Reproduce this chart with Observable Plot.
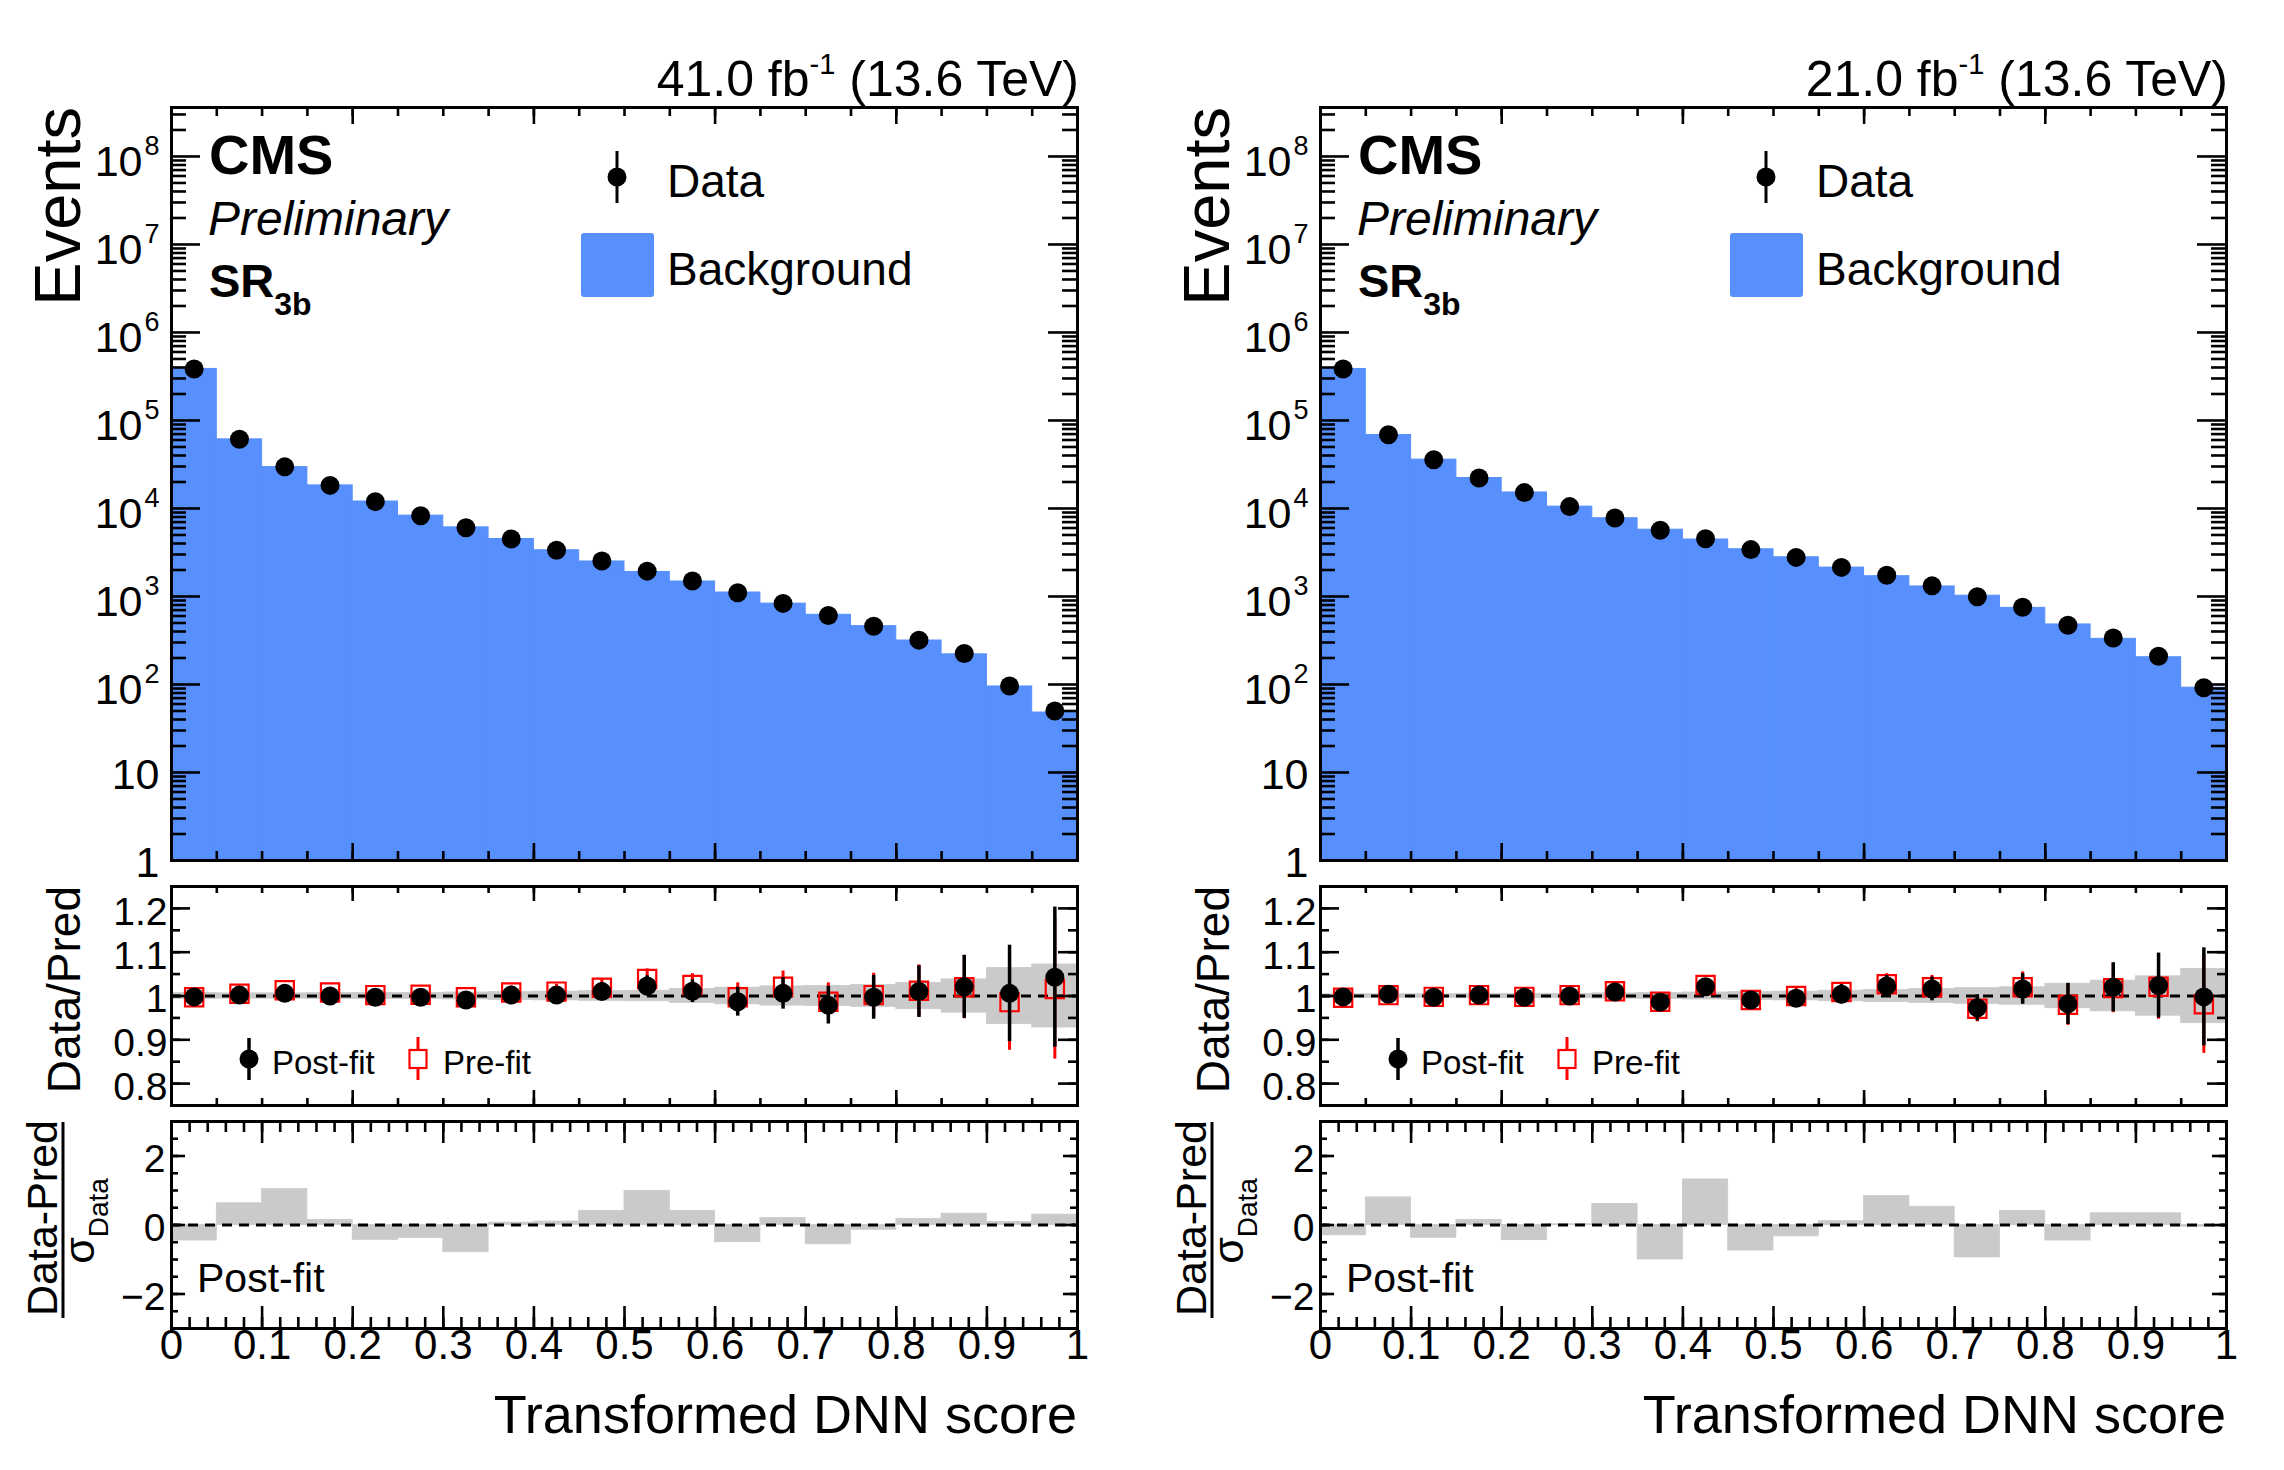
<!DOCTYPE html>
<html><head><meta charset="utf-8">
<script src="https://cdn.jsdelivr.net/npm/d3@7"></script>
<script src="https://cdn.jsdelivr.net/npm/@observablehq/plot@0.6"></script>
<style>
body{margin:0;background:#fff;}
#fig{position:relative;width:2284px;height:1470px;font-family:"Liberation Sans",Arial,Helvetica,sans-serif;}
#fig svg{position:absolute;overflow:visible;}
</style></head><body><div id="fig"></div>
<script>
// ---------- data ----------
const binEdges = [0,0.05,0.1,0.15,0.2,0.25,0.3,0.35,0.4,0.45,0.5,0.55,0.6,0.65,0.7,0.75,0.8,0.85,0.9,0.95,1];
const xTickValues = [0,0.1,0.2,0.3,0.4,0.5,0.6,0.7,0.8,0.9,1];
const xTickLabels = ["0","0.1","0.2","0.3","0.4","0.5","0.6","0.7","0.8","0.9","1"];
const logTickValues = [1,10,100,1e3,1e4,1e5,1e6,1e7,1e8];
const logTickBase = ["1","10","10","10","10","10","10","10","10"];
const logTickExp = ["","","2","3","4","5","6","7","8"];
const ratioTickValues = [0.8,0.9,1,1.1,1.2];
const ratioTickLabels = ["0.8","0.9","1","1.1","1.2"];
const pullTickValues = [-2,0,2];
const pullTickLabels = ["\u22122","0","2"];

const lumiLabels = ["41.0","21.0"];

const bkg41 = [385000,61000,29500,18300,12000,8300,6100,4500,3350,2500,1900,1480,1110,830,620,460,316,220,95,48];
const data41 = [384000,61100,29700,18300,11960,8270,6050,4510,3360,2530,1940,1500,1100,835,607,459,319,225,96,50];
const post41 = [0.998,1.002,1.006,1.000,0.997,0.997,0.991,1.002,1.002,1.010,1.023,1.011,0.987,1.006,0.979,0.997,1.010,1.021,1.006,1.043];
const pre41 = [0.997,1.005,1.013,1.008,1.002,1.003,0.997,1.008,1.010,1.019,1.039,1.025,0.997,1.021,0.987,1.002,1.012,1.020,0.986,1.016];
const err41 = [0.002,0.004,0.006,0.007,0.009,0.011,0.013,0.015,0.017,0.020,0.023,0.026,0.033,0.036,0.043,0.050,0.059,0.072,0.110,0.160];
const band41 = [0.007,0.006,0.006,0.007,0.007,0.007,0.008,0.009,0.010,0.011,0.012,0.016,0.019,0.022,0.023,0.025,0.030,0.038,0.064,0.072];
const pull41 = [-0.45,0.63,1.04,0.15,-0.43,-0.38,-0.79,0.07,0.10,0.41,0.99,0.41,-0.50,0.20,-0.56,-0.14,0.18,0.33,0.09,0.30];

const bkg21 = [385000,68400,35900,22200,15200,10500,7740,5740,4440,3440,2790,2130,1700,1300,1020,743,481,330,204,92];
const data21 = [384000,68700,35800,22200,15150,10500,7810,5660,4530,3410,2780,2140,1740,1320,992,755,472,337,209,92];
const post21 = [0.998,1.004,0.997,1.002,0.997,1.000,1.009,0.986,1.021,0.991,0.995,1.004,1.023,1.016,0.973,1.016,0.982,1.020,1.024,0.998];
const pre21 = [0.996,1.002,0.998,1.002,0.998,1.002,1.011,0.987,1.025,0.991,1.000,1.009,1.027,1.020,0.971,1.020,0.980,1.018,1.021,0.981];
const err21 = [0.002,0.004,0.005,0.007,0.008,0.010,0.011,0.013,0.015,0.017,0.019,0.022,0.024,0.027,0.030,0.035,0.047,0.056,0.074,0.112];
const band21 = [0.004,0.004,0.004,0.005,0.005,0.005,0.006,0.007,0.008,0.009,0.010,0.012,0.014,0.016,0.018,0.020,0.028,0.035,0.045,0.062];
const pull21 = [-0.30,0.80,-0.37,0.15,-0.44,0.02,0.61,-1.00,1.32,-0.74,-0.33,0.11,0.84,0.53,-0.94,0.41,-0.45,0.34,0.34,-0.05];

// ---------- style / layout ----------
const BLUE = "#5790fc", GRAY = "#cacaca", RED = "#ff0000";
const FONT = '"Liberation Sans",Arial,Helvetica,sans-serif';
const FW = 906;
const TOP = {y: 107, h: 753}, RAT = {y: 886, h: 219}, PUL = {y: 1121, h: 207};
const YMAX = 3.6e8;

const panels = [
  {x0: 171, lumi: lumiLabels[0], bkg: bkg41, data: data41, post: post41, pre: pre41, err: err41, band: band41, pull: pull41},
  {x0: 1320, lumi: lumiLabels[1], bkg: bkg21, data: data21, post: post21, pre: pre21, err: err21, band: band21, pull: pull21}
];

function rowsOf(p) {
  return p.bkg.map((b, i) => ({
    lo: binEdges[i], hi: binEdges[i + 1], mid: (binEdges[i] + binEdges[i + 1]) / 2,
    bkg: b, data: p.data[i], post: p.post[i], pre: p.pre[i], err: p.err[i], band: p.band[i], pull: p.pull[i]
  }));
}

const step = (a, b, s) => d3.range(Math.round((b - a) / s) + 1).map(i => +(a + i * s).toFixed(6));

function frameTicks(W, H, xMaj, xMin, xMajLen, xMinLen, yMaj, yMin, yMajLen, yMinLen) {
  const s = {stroke: "black", strokeWidth: 2.6};
  return [
    Plot.tickX(xMin, {x: d => d, insetBottom: H - xMinLen, ...s}),
    Plot.tickX(xMin, {x: d => d, insetTop: H - xMinLen, ...s}),
    Plot.tickX(xMaj, {x: d => d, insetBottom: H - xMajLen, ...s}),
    Plot.tickX(xMaj, {x: d => d, insetTop: H - xMajLen, ...s}),
    Plot.tickY(yMin, {y: d => d, insetRight: W - yMinLen, ...s}),
    Plot.tickY(yMin, {y: d => d, insetLeft: W - yMinLen, ...s}),
    Plot.tickY(yMaj, {y: d => d, insetRight: W - yMajLen, ...s}),
    Plot.tickY(yMaj, {y: d => d, insetLeft: W - yMajLen, ...s})
  ];
}

function place(svg, x, y) {
  svg.style.left = x + "px";
  svg.style.top = y + "px";
  svg.style.overflow = "visible";
  svg.style.background = "transparent";
  document.getElementById("fig").appendChild(svg);
}

const baseStyle = `overflow:visible;background:transparent;font-family:${FONT};color:black;`;

const logTicks = logTickValues.map((v, i) => ({v, base: logTickBase[i], exp: logTickExp[i]}));
const logMinor = d3.range(0, 9).flatMap(e => d3.range(2, 10).map(k => k * Math.pow(10, e))).filter(v => v < YMAX);
const xTicks = xTickValues.map((v, i) => ({v, t: xTickLabels[i]}));
const ratioTicks = ratioTickValues.map((v, i) => ({v, t: ratioTickLabels[i]}));
const pullTicks = pullTickValues.map((v, i) => ({v, t: pullTickLabels[i]}));

for (const p of panels) {
  const R = rowsOf(p);

  // ---- main panel ----
  const top = Plot.plot({
    width: FW, height: TOP.h, margin: 0,
    style: baseStyle,
    x: {domain: [0, 1], axis: null},
    y: {type: "log", domain: [1, YMAX], axis: null},
    marks: [
      Plot.rect(R, {x1: "lo", x2: "hi", y1: () => 1, y2: "bkg", fill: BLUE, stroke: BLUE, strokeWidth: 1}),
      Plot.dot(R, {x: "mid", y: "data", r: 9.5, fill: "black", stroke: "none"}),
      ...frameTicks(FW, TOP.h, step(0, 1, 0.2), step(0, 1, 0.05), 17, 9, logTickValues, logMinor, 29, 15),
      Plot.frame({stroke: "black", strokeWidth: 3}),
      Plot.text(logTicks.filter(d => d.exp === ""), {y: "v", text: "base", frameAnchor: "left", textAnchor: "end", dx: -12, dy: 3, fontSize: 43, fill: "black"}),
      Plot.text(logTicks.filter(d => d.exp !== ""), {y: "v", text: "base", frameAnchor: "left", textAnchor: "end", dx: -29, dy: 6, fontSize: 43, fill: "black"}),
      Plot.text(logTicks.filter(d => d.exp !== ""), {y: "v", text: "exp", frameAnchor: "left", textAnchor: "end", dx: -12, dy: -10, fontSize: 27, fill: "black"})
    ]
  });
  place(top, p.x0, TOP.y);

  // ---- ratio panel ----
  const rat = Plot.plot({
    width: FW, height: RAT.h, margin: 0,
    style: baseStyle,
    x: {domain: [0, 1], axis: null},
    y: {domain: [0.75, 1.25], axis: null},
    marks: [
      Plot.rect(R, {x1: "lo", x2: "hi", y1: d => 1 - d.band, y2: d => 1 + d.band, fill: GRAY, stroke: GRAY, strokeWidth: 0.8}),
      Plot.ruleY([1], {stroke: "black", strokeWidth: 3, strokeDasharray: "10,7"}),
      Plot.ruleX(R, {x: "mid", y1: d => d.pre - d.err, y2: d => d.pre + d.err, stroke: RED, strokeWidth: 3}),
      Plot.dot(R, {x: "mid", y: "pre", symbol: "square", r: 10.3, stroke: RED, strokeWidth: 2.2, fill: "none"}),
      Plot.ruleX(R, {x: "mid", y1: d => d.post - d.err, y2: d => d.post + d.err, stroke: "black", strokeWidth: 3.5}),
      Plot.dot(R, {x: "mid", y: "post", r: 9.5, fill: "black", stroke: "none"}),
      ...frameTicks(FW, RAT.h, step(0, 1, 0.2), step(0, 1, 0.05), 15, 7, ratioTickValues, step(0.75, 1.25, 0.05), 19, 9),
      Plot.frame({stroke: "black", strokeWidth: 3}),
      Plot.text(ratioTicks, {y: "v", text: "t", frameAnchor: "left", textAnchor: "end", dx: -4, dy: 4, fontSize: 39, fill: "black"})
    ]
  });
  place(rat, p.x0, RAT.y);

  // ---- pull panel ----
  const pul = Plot.plot({
    width: FW, height: PUL.h, margin: 0,
    style: baseStyle,
    x: {domain: [0, 1], axis: null},
    y: {domain: [-3, 3], axis: null},
    marks: [
      Plot.rect(R, {x1: "lo", x2: "hi", y1: () => 0, y2: "pull", fill: GRAY, stroke: GRAY, strokeWidth: 0.8}),
      Plot.ruleY([0], {stroke: "black", strokeWidth: 3, strokeDasharray: "10,7"}),
      ...frameTicks(FW, PUL.h, step(0, 1, 0.1), step(0, 1, 0.02), 22, 11, pullTickValues, step(-3, 3, 0.5), 14, 7),
      Plot.frame({stroke: "black", strokeWidth: 3}),
      Plot.text(pullTicks, {y: "v", text: "t", frameAnchor: "left", textAnchor: "end", dx: -6, dy: 4, fontSize: 39, fill: "black"}),
      Plot.text(xTicks, {x: "v", text: "t", frameAnchor: "bottom", textAnchor: "middle", dy: 30, fontSize: 42, fill: "black"})
    ]
  });
  place(pul, p.x0, PUL.y);
}

// ---------- overlay annotations ----------
const ov = d3.select("#fig").append("svg")
  .attr("width", 2284).attr("height", 1470)
  .style("left", "0px").style("top", "0px")
  .attr("font-family", FONT);

function text(x, y, str, o = {}) {
  const t = ov.append("text").attr("x", x).attr("y", y)
    .attr("font-size", o.size || 40).attr("fill", o.fill || "black")
    .attr("text-anchor", o.anchor || "start");
  if (o.weight) t.attr("font-weight", o.weight);
  if (o.style) t.attr("font-style", o.style);
  if (o.transform) t.attr("transform", o.transform).attr("x", 0).attr("y", 0);
  t.text(str);
  return t;
}

for (const p of panels) {
  const x0 = p.x0, xr = x0 + FW;

  // luminosity label
  const l = text(xr + 2, 96, p.lumi + " fb", {size: 50, anchor: "end"});
  l.append("tspan").attr("font-size", 29).attr("dy", -22).text("-1");
  l.append("tspan").attr("font-size", 50).attr("dy", 22).text(" (13.6 TeV)");

  // y titles
  text(0, 0, "Events", {size: 65, anchor: "end", transform: `translate(${x0 - 91},${TOP.y}) rotate(-90)`});
  text(0, 0, "Data/Pred", {size: 46, anchor: "end", transform: `translate(${x0 - 91},${RAT.y}) rotate(-90)`});
  text(0, 0, "Data-Pred", {size: 43, anchor: "middle", transform: `translate(${x0 - 114},${1218}) rotate(-90)`});
  ov.append("line").attr("x1", x0 - 108).attr("x2", x0 - 108).attr("y1", 1122).attr("y2", 1318)
    .attr("stroke", "black").attr("stroke-width", 3);
  const den = text(0, 0, "\u03c3", {size: 43, anchor: "middle", transform: `translate(${x0 - 77},${1221}) rotate(-90)`});
  den.append("tspan").attr("font-size", 28).attr("dy", 14).text("Data");

  // x title
  text(xr, 1433, "Transformed DNN score", {size: 54, anchor: "end"});

  // CMS labels
  text(x0 + 38, 174, "CMS", {size: 56, weight: "bold"});
  text(x0 + 37, 235, "Preliminary", {size: 48, style: "italic"});
  const sr = text(x0 + 38, 297, "SR", {size: 47, weight: "bold"});
  sr.append("tspan").attr("font-size", 32).attr("dy", 18).text("3b");

  // main legend
  ov.append("line").attr("x1", x0 + 446).attr("x2", x0 + 446).attr("y1", 151).attr("y2", 203)
    .attr("stroke", "black").attr("stroke-width", 3);
  ov.append("circle").attr("cx", x0 + 446).attr("cy", 177).attr("r", 9.5).attr("fill", "black");
  text(x0 + 496, 197, "Data", {size: 46});
  ov.append("rect").attr("x", x0 + 410).attr("y", 233).attr("width", 73).attr("height", 64)
    .attr("rx", 3).attr("fill", BLUE);
  text(x0 + 496, 285, "Background", {size: 46});

  // ratio legend
  ov.append("line").attr("x1", x0 + 78).attr("x2", x0 + 78).attr("y1", 1038).attr("y2", 1080)
    .attr("stroke", "black").attr("stroke-width", 3.5);
  ov.append("circle").attr("cx", x0 + 78).attr("cy", 1059).attr("r", 9.5).attr("fill", "black");
  text(x0 + 101, 1074, "Post-fit", {size: 33});
  ov.append("line").attr("x1", x0 + 247).attr("x2", x0 + 247).attr("y1", 1037).attr("y2", 1050)
    .attr("stroke", RED).attr("stroke-width", 3);
  ov.append("line").attr("x1", x0 + 247).attr("x2", x0 + 247).attr("y1", 1068).attr("y2", 1080)
    .attr("stroke", RED).attr("stroke-width", 3);
  ov.append("rect").attr("x", x0 + 238.5).attr("y", 1050).attr("width", 17).attr("height", 18)
    .attr("fill", "none").attr("stroke", RED).attr("stroke-width", 2.2);
  text(x0 + 272, 1074, "Pre-fit", {size: 33});

  // pull label
  text(x0 + 26, 1292, "Post-fit", {size: 41});
}
</script>
</body></html>
